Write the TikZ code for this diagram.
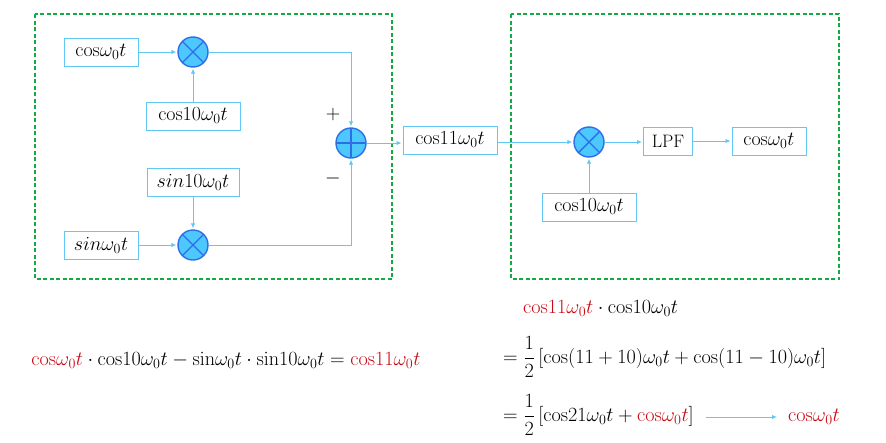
\RequirePackage{fix-cm}
\documentclass[tikz,border=0pt]{standalone}
\usepackage{amsmath}
\usetikzlibrary{arrows.meta}
\definecolor{dgreen}{RGB}{20,170,70}
\definecolor{lblue}{RGB}{95,200,245}
\definecolor{mfill}{RGB}{77,200,255}
\definecolor{mdraw}{RGB}{45,110,230}
\definecolor{eqred}{RGB}{200,10,20}
\newcommand{\wt}{\omega_0 t}
\begin{document}
\begin{tikzpicture}[x=1pt,y=-1pt,font=\fontsize{20}{24}\selectfont,
  blk/.style={draw=lblue,line width=1pt,inner sep=0pt,minimum height=28pt},
  grp/.style={draw=dgreen,line width=1.3pt,dash pattern=on 4pt off 2.5pt},
  mult/.style={circle,draw=mdraw,fill=mfill,line width=1.4pt,minimum size=30pt,inner sep=0pt,
    path picture={\draw[mdraw,line width=1.4pt] (path picture bounding box.north west)--(path picture bounding box.south east)
      (path picture bounding box.north east)--(path picture bounding box.south west);}},
  adder/.style={circle,draw=mdraw,fill=mfill,line width=1.4pt,minimum size=30pt,inner sep=0pt,
    path picture={\draw[mdraw,line width=1.4pt] (path picture bounding box.north)--(path picture bounding box.south)
      (path picture bounding box.east)--(path picture bounding box.west);}},
  con/.style={draw=lblue,line width=0.9pt,-{Latex[length=5pt,width=4.5pt]},shorten >=1pt},
  eq/.style={inner sep=0pt,font=\fontsize{20.2}{24}\selectfont}
]
\useasboundingbox (0,0) rectangle (886,442);
% groups
\draw[grp] (35,14) rectangle (392,279);
\draw[grp] (511,14) rectangle (839,279);
% left part
\node[blk,minimum width=74pt] (c0) at (101,52) {$\mathrm{cos}\wt$};
\node[mult] (m1) at (193,52) {};
\node[blk,minimum width=94pt] (c10) at (193,116) {$\mathrm{cos}10\wt$};
\node[blk,minimum width=92pt] (s10) at (193,182) {$sin10\wt$};
\node[blk,minimum width=74pt] (s0) at (101,245) {$sin\wt$};
\node[mult] (m2) at (193,245) {};
\node[adder] (add) at (351,143) {};
\node (plus) at (333,114) {$+$};
\node (minus) at (333,178) {$-$};
\node[blk,minimum width=94pt] (c11) at (450,140) {$\mathrm{cos}11\wt$};
% right part
\node[mult] (m3) at (589,142) {};
\node[blk,minimum width=49pt,font=\fontsize{18}{21}\selectfont] (lpf) at (668,141) {LPF};
\node[blk,minimum width=74pt] (out) at (769,141) {$\mathrm{cos}\wt$};
\node[blk,minimum width=94pt] (c10b) at (589,207) {$\mathrm{cos}10\wt$};
% connectors
\draw[con] (c0.east) -- (m1.west);
\draw[con] (c10.north) -- (m1.south);
\draw[con] (m1.east) -| (add.north);
\draw[con] (s10.south) -- (m2.north);
\draw[con] (s0.east) -- (m2.west);
\draw[con] (m2.east) -| (add.south);
\draw[con] (add.east) -- (add.east -| c11.west);
\draw[con] (c11.east |- m3.west) -- (m3.west);
\draw[con] (c10b.north) -- (m3.south);
\draw[con] (m3.east) -- (m3.east -| lpf.west);
\draw[con] (lpf.east) -- (out.west);
% equations
\node[eq] (eqL) at (226,360) {$\textcolor{eqred}{\mathrm{cos}\wt}\cdot\mathrm{cos}10\wt-\mathrm{sin}\wt\cdot\mathrm{sin}10\wt=\textcolor{eqred}{\mathrm{cos}11\wt}$};
\node[eq,anchor=west] (eq1) at (523,308) {$\textcolor{eqred}{\mathrm{cos}11\wt}\cdot\mathrm{cos}10\wt$};
\node[eq,anchor=west] (eq2) at (503,357) {$=\dfrac{1}{2}\,[\mathrm{cos}(11+10)\wt+\mathrm{cos}(11-10)\wt]$};
\node[eq,anchor=west] (eq3) at (503,415) {$=\dfrac{1}{2}\,[\mathrm{cos}21\wt+\textcolor{eqred}{\mathrm{cos}\wt}]$};
\node[eq,anchor=west] (res) at (788,417) {$\textcolor{eqred}{\mathrm{cos}\wt}$};
\draw[con] ([xshift=12pt,yshift=-2pt]eq3.east) -- ([xshift=-10pt]res.west);
\end{tikzpicture}
\end{document}
